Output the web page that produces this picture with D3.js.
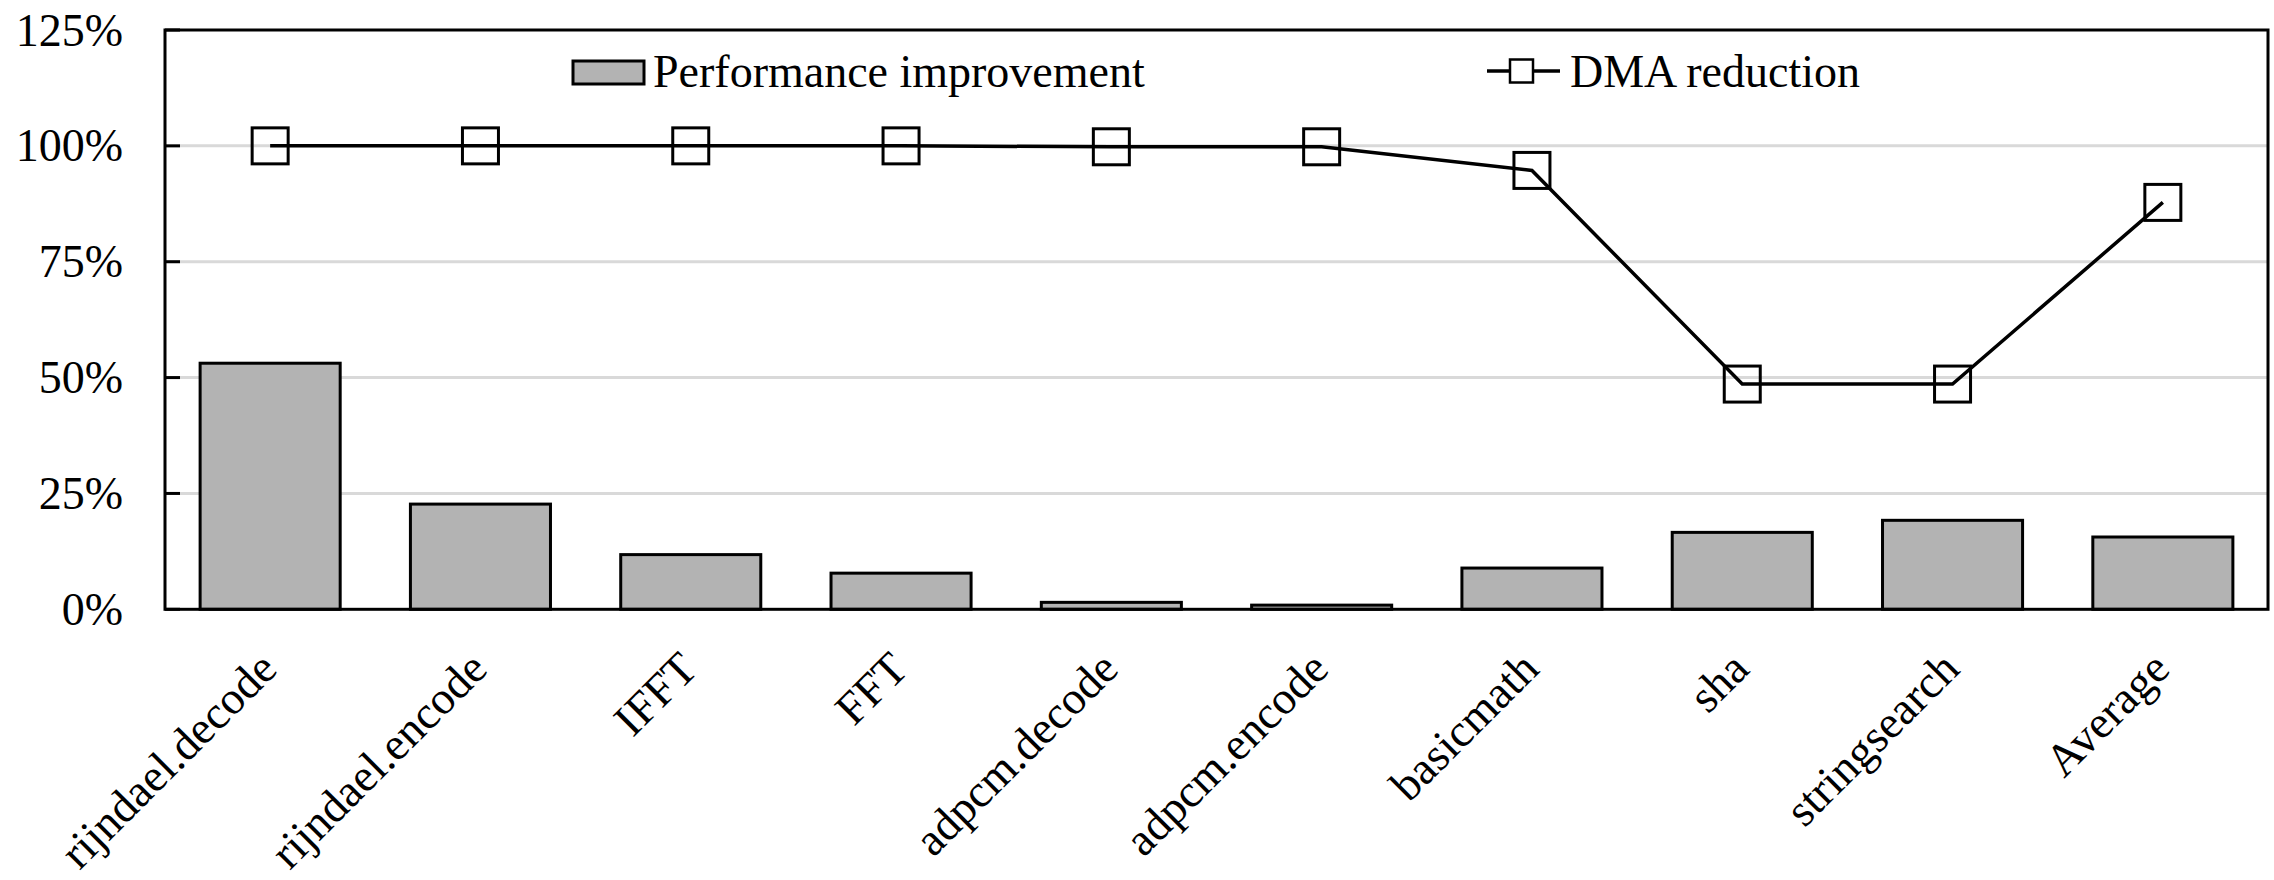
<!DOCTYPE html>
<html>
<head>
<meta charset="utf-8">
<script src="https://cdn.jsdelivr.net/npm/d3@7"></script>
<style>
  html, body { margin: 0; padding: 0; background: #fff; }
  svg { display: block; }
  text { font-family: "Liberation Serif", "DejaVu Serif", serif; fill: #000; }
</style>
</head>
<body>
<svg id="chart" width="2274" height="880"></svg>
<script>
const categories = ["rijndael.decode", "rijndael.encode", "IFFT", "FFT", "adpcm.decode",
                    "adpcm.encode", "basicmath", "sha", "stringsearch", "Average"];
const performanceImprovement = [0.531, 0.227, 0.118, 0.078, 0.015, 0.009, 0.089, 0.166, 0.192, 0.156];
const dmaReduction = [1.0, 1.0, 1.0, 1.0, 0.998, 0.998, 0.947, 0.486, 0.486, 0.878];
const yTicks = [0, 0.25, 0.5, 0.75, 1.0, 1.25];
const seriesNames = ["Performance improvement", "DMA reduction"];

const svg = d3.select("#chart");
const plotLeft = 165, plotRight = 2268, plotTop = 30, plotBottom = 609.3;
const fontSize = 46;

const x = d3.scaleBand().domain(categories).range([plotLeft, plotRight])
  .paddingInner(0.334).paddingOuter(0.167);
const y = d3.scaleLinear().domain([0, 1.25]).range([plotBottom, plotTop]);

// gridlines
svg.append("g").selectAll("line").data(yTicks.filter(t => t > 0 && t < 1.25)).join("line")
  .attr("x1", plotLeft).attr("x2", plotRight)
  .attr("y1", d => y(d)).attr("y2", d => y(d))
  .attr("stroke", "#d9d9d9").attr("stroke-width", 3);

// inward tick marks
svg.append("g").selectAll("line").data(yTicks).join("line")
  .attr("x1", plotLeft).attr("x2", plotLeft + 15)
  .attr("y1", d => y(d)).attr("y2", d => y(d))
  .attr("stroke", "#000").attr("stroke-width", 3);

// y tick labels
const fmt = d3.format(".0%");
svg.append("g").selectAll("text").data(yTicks).join("text")
  .attr("x", 123).attr("y", d => y(d) + 15.5)
  .attr("text-anchor", "end")
  .attr("font-size", fontSize)
  .text(d => fmt(d));

// bars
svg.append("g").selectAll("rect").data(categories).join("rect")
  .attr("x", d => x(d))
  .attr("width", x.bandwidth())
  .attr("y", (d, i) => y(performanceImprovement[i]))
  .attr("height", (d, i) => y(0) - y(performanceImprovement[i]))
  .attr("fill", "#b3b3b3").attr("stroke", "#000").attr("stroke-width", 3);

// frame
svg.append("rect")
  .attr("x", plotLeft).attr("y", plotTop)
  .attr("width", plotRight - plotLeft).attr("height", plotBottom - plotTop)
  .attr("fill", "none").attr("stroke", "#000").attr("stroke-width", 3);

// line
const cx = d => x(d) + x.bandwidth() / 2;
const line = d3.line().x(d => cx(d[0])).y(d => y(d[1]));
svg.append("path")
  .datum(categories.map((c, i) => [c, dmaReduction[i]]))
  .attr("d", line)
  .attr("fill", "none").attr("stroke", "#000").attr("stroke-width", 3.5)
  .attr("stroke-linejoin", "miter");

// markers
const ms = 36;
svg.append("g").selectAll("rect").data(categories).join("rect")
  .attr("x", d => cx(d) - ms / 2)
  .attr("y", (d, i) => y(dmaReduction[i]) - ms / 2)
  .attr("width", ms).attr("height", ms)
  .attr("fill", "none").attr("stroke", "#000").attr("stroke-width", 3);

// x labels
svg.append("g").selectAll("text").data(categories).join("text")
  .attr("text-anchor", "end")
  .attr("font-size", fontSize)
  .attr("transform", d => `translate(${cx(d) + 9},${plotBottom + 62}) rotate(-45)`)
  .text(d => d);

// legend
const lg = svg.append("g");
lg.append("rect").attr("x", 573).attr("y", 61).attr("width", 71).attr("height", 23)
  .attr("fill", "#b3b3b3").attr("stroke", "#000").attr("stroke-width", 3);
lg.append("text").attr("x", 653).attr("y", 87).attr("font-size", fontSize).text(seriesNames[0]);
lg.append("line").attr("x1", 1487).attr("x2", 1560).attr("y1", 71).attr("y2", 71)
  .attr("stroke", "#000").attr("stroke-width", 3.5);
lg.append("rect").attr("x", 1510).attr("y", 59.5).attr("width", 23).attr("height", 23)
  .attr("fill", "#fff").attr("stroke", "#000").attr("stroke-width", 2.5);
lg.append("text").attr("x", 1570).attr("y", 87).attr("font-size", fontSize).text(seriesNames[1]);
</script>
</body>
</html>
